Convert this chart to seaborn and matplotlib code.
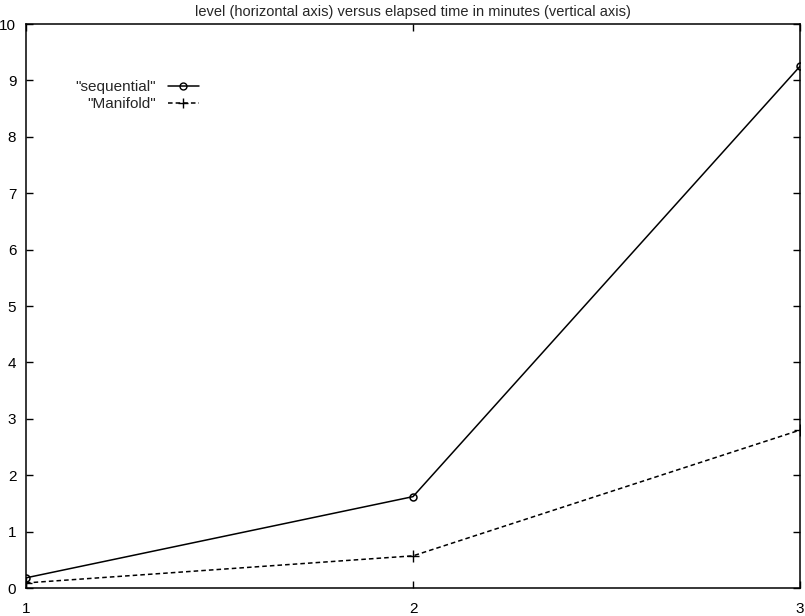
import matplotlib
matplotlib.use("Agg")
import matplotlib.pyplot as plt
from matplotlib.lines import Line2D
import seaborn as sns

# Data
levels = [1, 2, 3]
sequential_minutes = [0.18, 1.62, 9.25]
manifold_minutes = [0.09, 0.57, 2.80]

y_ticks = list(range(0, 11))
x_ticks = [1, 2, 3]

sns.set_theme(style="ticks")
plt.rcParams["font.family"] = ["Liberation Sans", "DejaVu Sans"]

fig = plt.figure(figsize=(8.05, 6.16), dpi=100)
ax = fig.add_axes([26 / 805, 1 - 588 / 616, (800 - 26) / 805, (588 - 24) / 616])

sns.lineplot(x=levels, y=sequential_minutes, color="black", linewidth=1.1,
             marker="o", markersize=5, markerfacecolor="none",
             markeredgecolor="black", markeredgewidth=1.1, ax=ax)
sns.lineplot(x=levels, y=manifold_minutes, color="black", linewidth=1.1,
             linestyle=(0, (3, 2)), marker="+", markersize=8,
             markeredgecolor="black", markeredgewidth=1.0, ax=ax)

ax.set_xlim(1, 3)
ax.set_ylim(0, 10)
ax.set_xticks(x_ticks)
ax.set_yticks(y_ticks)
ax.set_xlabel("")
ax.set_ylabel("")
ax.tick_params(direction="in", top=True, right=True, length=5, width=1,
               labelsize=11, colors="black")
ax.tick_params(axis="x", pad=10)
ax.tick_params(axis="y", pad=7)
for side in ax.spines.values():
    side.set_color("black")
    side.set_linewidth(1.1)

ax.set_title("level (horizontal axis) versus elapsed time in minutes (vertical axis)",
             fontsize=10.5, pad=6)

# legend styled like gnuplot: label right-aligned, sample on its right
handles = [
    Line2D([0, 1], [0, 0], color="black", lw=1.1, marker="o", markersize=5,
           markerfacecolor="none", markevery=[0]),
    Line2D([0, 1], [0, 0], color="black", lw=1.1, ls=(0, (3, 2)), marker="+",
           markersize=7, markevery=[0]),
]
leg = ax.legend(handles, ['"sequential"', '"Manifold"'], loc="upper left",
                bbox_to_anchor=(0.046, 0.925), frameon=False, markerfirst=False,
                fontsize=11, handlelength=2.0, handletextpad=0.8,
                labelspacing=0.2, numpoints=1)
for t in leg.get_texts():
    t.set_ha("right")
leg._legend_box.align = "right"

fig.savefig("out.png", dpi=100)
